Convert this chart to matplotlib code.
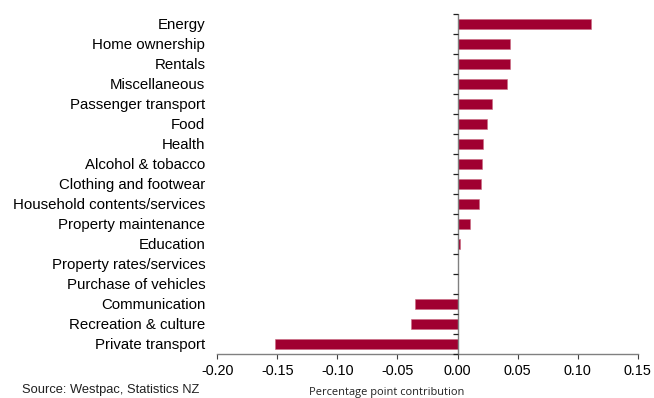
import matplotlib
matplotlib.use("Agg")
import matplotlib.pyplot as plt
from matplotlib.markers import TICKLEFT
import numpy as np

categories = [
    "Energy", "Home ownership", "Rentals", "Miscellaneous", "Passenger transport",
    "Food", "Health", "Alcohol & tobacco", "Clothing and footwear",
    "Household contents/services", "Property maintenance", "Education",
    "Property rates/services", "Purchase of vehicles", "Communication",
    "Recreation & culture", "Private transport",
]
contribution = [
    0.111, 0.044, 0.044, 0.0414, 0.029, 0.0247, 0.0216, 0.0206, 0.0197,
    0.018, 0.0106, 0.0017, 0.0007, 0.0, -0.035, -0.039, -0.152,
]
x_ticks = [-0.20, -0.15, -0.10, -0.05, 0.00, 0.05, 0.10, 0.15]
x_tick_labels = ["-0.20", "-0.15", "-0.10", "-0.05", "0.00", "0.05", "0.10", "0.15"]

W, H = 654, 398
fig = plt.figure(figsize=(W / 100, H / 100), dpi=100)
left, right, top, bottom = 217.3, 637.7, 13.5, 353.5
ax = fig.add_axes([left / W, 1 - bottom / H, (right - left) / W, (bottom - top) / H])

bar_color = "#A00030"
pos = np.arange(len(categories))
ax.barh(pos, contribution, height=0.5, color=bar_color, edgecolor="#C86A80", linewidth=0.4, zorder=2)

ax.set_ylim(len(categories) - 0.5, -0.5)
ax.set_xlim(x_ticks[0], x_ticks[-1])

font = "Liberation Sans"
ax.set_yticks(pos)
ax.set_yticklabels(categories, fontsize=10.8, family=font)
ax.tick_params(axis="y", length=0, pad=8.6)

ax.set_xticks(x_ticks)
ax.set_xticklabels(x_tick_labels, fontsize=10.4, family=font)
ax.tick_params(axis="x", direction="out", length=3.5, width=0.8, color="#404040", pad=4)

for side in ("left", "right", "top"):
    ax.spines[side].set_visible(False)
ax.spines["bottom"].set_color("#808080")
ax.spines["bottom"].set_linewidth(1.0)

# zero line with category-boundary ticks
ax.axvline(0, color="#808080", linewidth=1.0, zorder=3)
bounds = np.arange(len(categories) + 1) - 0.5
ax.plot(np.zeros_like(bounds), bounds, linestyle="none", marker=TICKLEFT,
        markersize=3.8, markeredgewidth=0.9, color="#202020", zorder=4, clip_on=False)

fig.text(387 / W, 0.5 / H, "Percentage point contribution", ha="center", va="bottom",
         fontsize=7.9, family="Open Sans", color="#202020")
fig.text(22 / W, 1 - 384.5 / H, "Source: Westpac, Statistics NZ", ha="left", va="top",
         fontsize=9.3, family=font, color="#202020")

fig.savefig("out.png", dpi=100)
